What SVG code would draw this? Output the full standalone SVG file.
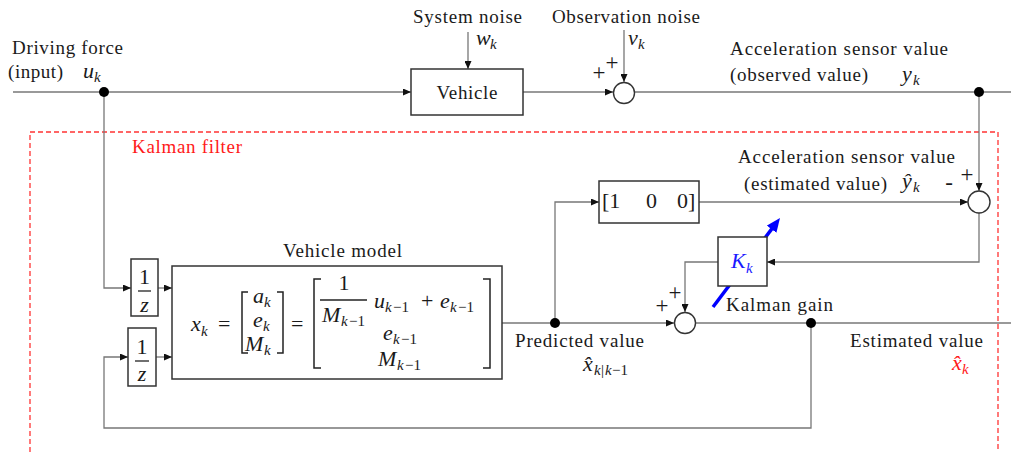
<svg xmlns="http://www.w3.org/2000/svg" width="1011" height="452" viewBox="0 0 1011 452">
<defs>
<style>
.t{font-family:"Liberation Serif","Times New Roman",serif;font-size:19px;fill:#1a1a1a}
.m{font-family:"Liberation Serif","Times New Roman",serif;font-style:italic;font-size:22px;fill:#1a1a1a}
.u{font-family:"Liberation Serif","Times New Roman",serif;font-size:22px;fill:#1a1a1a}
.s{font-family:"Liberation Serif","Times New Roman",serif;font-style:italic;font-size:15px;fill:#1a1a1a}
.su{font-family:"Liberation Serif","Times New Roman",serif;font-size:15px;fill:#1a1a1a}
.pl{font-family:"Liberation Serif","Times New Roman",serif;font-size:23px;fill:#1a1a1a}
.ln{fill:none;stroke:#777;stroke-width:1.3}
.bx{fill:#fff;stroke:#333;stroke-width:1.5}
.br{fill:none;stroke:#222;stroke-width:1.5}
.sum{fill:#fff;stroke:#333;stroke-width:1.4}
.dot{fill:#000}
.red{fill:#ff1a1a}
.blue{fill:#1a1aff}
</style>
<marker id="ah" markerWidth="8" markerHeight="7" refX="8" refY="3.5" orient="auto" markerUnits="userSpaceOnUse"><path d="M0,0L8,3.5L0,7z" fill="#111"/></marker>
<marker id="bh" markerWidth="14" markerHeight="12" refX="6" refY="6" orient="auto" markerUnits="userSpaceOnUse"><path d="M0,0L14,6L0,12z" fill="#0000ff"/></marker>
</defs>
<rect width="1011" height="452" fill="#fff"/>

<g id="kalman-filter-frame">
<path d="M30,452V132H998V452" fill="none" stroke="#ff3333" stroke-width="1.3" stroke-dasharray="5,3"/>
<text class="t red" x="132" y="153" textLength="110" lengthAdjust="spacing">Kalman filter</text>
</g>

<g id="connectors">
<path class="ln" d="M13,92H411" marker-end="url(#ah)"/>
<path class="ln" d="M523,92H613" marker-end="url(#ah)"/>
<path class="ln" d="M635,92H1011"/>
<path class="ln" d="M468,32V69" stroke="#333" marker-end="url(#ah)"/>
<path class="ln" d="M624,30V82" stroke="#333" marker-end="url(#ah)"/>
<path class="ln" d="M104,92V288H131" marker-end="url(#ah)"/>
<path class="ln" d="M158,288H172" marker-end="url(#ah)"/>
<path class="ln" d="M156,357H172" marker-end="url(#ah)"/>
<path class="ln" d="M811,323V428H104V357H128" marker-end="url(#ah)"/>
<path class="ln" d="M502,323H674" marker-end="url(#ah)"/>
<path class="ln" d="M555,323V202H599" marker-end="url(#ah)"/>
<path class="ln" d="M699,202H968" marker-end="url(#ah)"/>
<path class="ln" d="M979,92V191" stroke="#333" marker-end="url(#ah)"/>
<path class="ln" d="M979,213V262H767" marker-end="url(#ah)"/>
<path class="ln" d="M718,262H685V312" marker-end="url(#ah)"/>
<path class="ln" d="M696,323H1011"/>
<circle class="dot" cx="104" cy="92" r="5"/>
<circle class="dot" cx="979" cy="92" r="5"/>
<circle class="dot" cx="555" cy="323" r="5"/>
<circle class="dot" cx="811" cy="323" r="5"/>
</g>

<g id="input-label">
<text class="t" x="12" y="54" textLength="111" lengthAdjust="spacing">Driving force</text>
<text class="t" x="8" y="78" textLength="55" lengthAdjust="spacing">(input)</text>
<text class="m" x="83" y="78">u</text><text class="s" x="94" y="82">k</text>
</g>

<g id="system-noise">
<text class="t" x="413" y="23" textLength="109" lengthAdjust="spacing">System noise</text>
<text class="m" x="476" y="45">w</text><text class="s" x="490" y="49">k</text>
</g>

<g id="observation-noise">
<text class="t" x="552" y="23" textLength="148" lengthAdjust="spacing">Observation noise</text>
<text class="m" x="628" y="45">v</text><text class="s" x="638" y="49">k</text>
</g>

<g id="vehicle">
<rect class="bx" x="411" y="69" width="112" height="46"/>
<text class="t" x="467" y="99" text-anchor="middle" textLength="61" lengthAdjust="spacing">Vehicle</text>
</g>

<g id="sum-observation">
<circle class="sum" cx="624" cy="93" r="10.5"/>
<text class="pl" x="599" y="80" text-anchor="middle">+</text>
<text class="pl" x="612" y="70" text-anchor="middle">+</text>
</g>

<g id="observed-label">
<text class="t" x="730" y="55" textLength="218" lengthAdjust="spacing">Acceleration sensor value</text>
<text class="t" x="730" y="81" textLength="138" lengthAdjust="spacing">(observed value)</text>
<text class="m" x="902" y="81">y</text><text class="s" x="913" y="85">k</text>
</g>

<g id="delay-input">
<rect class="bx" x="131" y="259" width="27" height="57"/>
<text class="u" x="144.5" y="284" text-anchor="middle">1</text>
<line x1="138" y1="291" x2="151" y2="291" stroke="#222" stroke-width="1.3"/>
<text class="m" x="144.5" y="312" text-anchor="middle">z</text>
</g>

<g id="delay-state">
<rect class="bx" x="128" y="328" width="28" height="58"/>
<text class="u" x="142" y="354" text-anchor="middle">1</text>
<line x1="135" y1="361" x2="149" y2="361" stroke="#222" stroke-width="1.3"/>
<text class="m" x="142" y="381" text-anchor="middle">z</text>
</g>

<g id="vehicle-model">
<text class="t" x="283" y="257" textLength="119" lengthAdjust="spacing">Vehicle model</text>
<rect class="bx" x="172" y="266" width="330" height="113"/>
<text class="m" x="191" y="331">x</text><text class="s" x="201" y="336">k</text>
<text class="u" x="218" y="331">=</text>
<path class="br" d="M248,292H242V353H248"/>
<text class="m" x="253" y="303">a</text><text class="s" x="264" y="307">k</text>
<text class="m" x="253" y="327">e</text><text class="s" x="263" y="331">k</text>
<text class="m" x="245" y="351">M</text><text class="s" x="264" y="355">k</text>
<path class="br" d="M277,292H283V353H277"/>
<text class="u" x="291" y="331">=</text>
<path class="br" d="M321,279H314V368H321"/>
<text class="u" x="344" y="290" text-anchor="middle">1</text>
<line x1="320" y1="300" x2="367" y2="300" stroke="#222" stroke-width="1.3"/>
<text class="m" x="322" y="322">M</text><text class="s" x="341" y="326">k</text><text class="su" x="349" y="326">−1</text>
<text class="m" x="374" y="308">u</text><text class="s" x="385" y="312">k</text><text class="su" x="393" y="312">−1</text>
<text class="u" x="421" y="308">+</text>
<text class="m" x="440" y="308">e</text><text class="s" x="450" y="312">k</text><text class="su" x="458" y="312">−1</text>
<text class="m" x="383" y="340">e</text><text class="s" x="393" y="344">k</text><text class="su" x="401" y="344">−1</text>
<text class="m" x="378" y="366">M</text><text class="s" x="397" y="370">k</text><text class="su" x="405" y="370">−1</text>
<path class="br" d="M483,279H490V368H483"/>
</g>

<g id="output-matrix">
<rect class="bx" x="599" y="181" width="100" height="42"/>
<text class="u" x="602" y="208">[1</text>
<text class="u" x="646" y="208">0</text>
<text class="u" x="677" y="208">0]</text>
</g>

<g id="estimated-label">
<text class="t" x="738" y="163" textLength="217" lengthAdjust="spacing">Acceleration sensor value</text>
<text class="t" x="744" y="190" textLength="143" lengthAdjust="spacing">(estimated value)</text>
<text class="m" x="902" y="188">ŷ</text><text class="s" x="913" y="192">k</text>
</g>

<g id="sum-innovation">
<circle class="sum" cx="979" cy="202" r="11"/>
<text class="pl" x="949" y="190" text-anchor="middle">-</text>
<text class="pl" x="967" y="182" text-anchor="middle">+</text>
</g>

<g id="kalman-gain">
<path d="M713,307L775.2,224.4" stroke="#0000ff" stroke-width="3.5" fill="none" marker-end="url(#bh)"/>
<rect class="bx" x="718" y="237" width="49" height="49"/>
<text class="m blue" x="731" y="268">K</text><text class="s blue" x="746" y="273">k</text>
<text class="t" x="726" y="311" textLength="107" lengthAdjust="spacing">Kalman gain</text>
</g>

<g id="sum-update">
<circle class="sum" cx="685" cy="323" r="10.5"/>
<text class="pl" x="662" y="313" text-anchor="middle">+</text>
<text class="pl" x="675" y="300" text-anchor="middle">+</text>
</g>

<g id="predicted-label">
<text class="t" x="515" y="347" textLength="129" lengthAdjust="spacing">Predicted value</text>
<text class="m" x="583" y="371">x̂</text>
<text class="s" x="594" y="375">k</text><text class="su" x="601" y="375">|</text><text class="s" x="605" y="375">k</text><text class="su" x="612" y="375">−1</text>
</g>

<g id="estimated-state-label">
<text class="t" x="850" y="347" textLength="133" lengthAdjust="spacing">Estimated value</text>
<text class="m red" x="952" y="370">x̂</text>
<text class="s red" x="962" y="374">k</text>
</g>
</svg>
